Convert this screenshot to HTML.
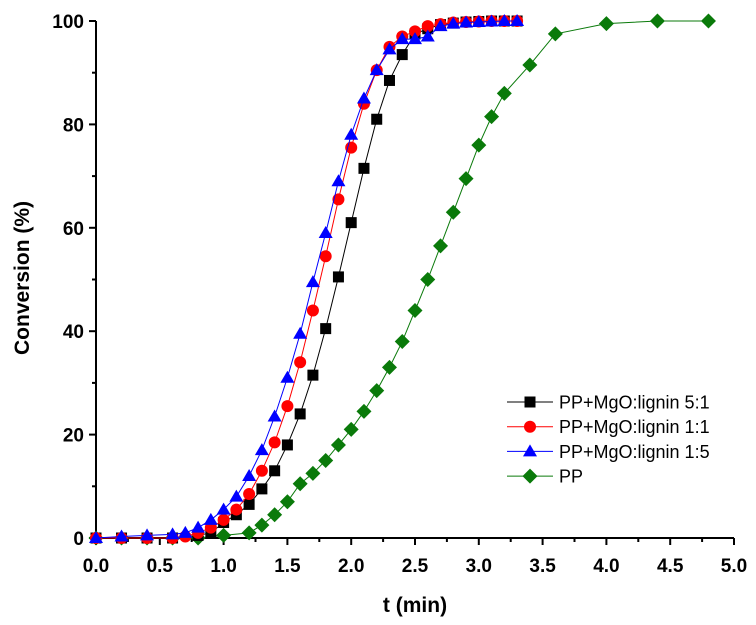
<!DOCTYPE html>
<html><head><meta charset="utf-8"><style>
body{margin:0;background:#fff;width:756px;height:625px;overflow:hidden}
svg{display:block}
text{font-family:"Liberation Sans",Arial,sans-serif}
</style></head><body>
<svg id="chart" width="756" height="625" viewBox="0 0 756 625" xmlns="http://www.w3.org/2000/svg">
<g id="axes"></g>
<g id="series"></g>
<g id="legend"></g>
<text x="415" y="612" text-anchor="middle" font-size="21" font-weight="bold">t (min)</text>
<text transform="translate(29,278) rotate(-90)" text-anchor="middle" font-size="21" font-weight="bold">Conversion (%)</text>
</svg>
<script>
const xTicks=[0,0.5,1,1.5,2,2.5,3,3.5,4,4.5,5];
const xTickLabels=["0.0","0.5","1.0","1.5","2.0","2.5","3.0","3.5","4.0","4.5","5.0"];
const yTicks=[0,20,40,60,80,100];
const yTickLabels=["0","20","40","60","80","100"];
const seriesNames=["PP+MgO:lignin 5:1","PP+MgO:lignin 1:1","PP+MgO:lignin 1:5","PP"];
const t51=[0,0.2,0.4,0.6,0.8,0.9,1.0,1.1,1.2,1.3,1.4,1.5,1.6,1.7,1.8,1.9,2.0,2.1,2.2,2.3,2.4,2.5,2.6,2.7,2.8,2.9,3.0,3.1,3.2,3.3];
const c51=[0,0,0,0,0.5,1,3,4.5,6.5,9.5,13,18,24,31.5,40.5,50.5,61,71.5,81,88.5,93.5,97.5,98.5,99.3,99.6,99.8,99.9,100,100,100];
const t11=[0,0.2,0.4,0.6,0.7,0.8,0.9,1.0,1.1,1.2,1.3,1.4,1.5,1.6,1.7,1.8,1.9,2.0,2.1,2.2,2.3,2.4,2.5,2.6,2.7,2.8,2.9,3.0,3.1,3.2,3.3];
const c11=[0,0,0,0,0.3,1,2,3.5,5.5,8.5,13,18.5,25.5,34,44,54.5,65.5,75.5,84,90.5,95,97,98,99,99.4,99.7,99.8,99.9,100,100,100];
const t15=[0,0.2,0.4,0.6,0.7,0.8,0.9,1.0,1.1,1.2,1.3,1.4,1.5,1.6,1.7,1.8,1.9,2.0,2.1,2.2,2.3,2.4,2.5,2.6,2.7,2.8,2.9,3.0,3.1,3.2,3.3];
const c15=[0,0.3,0.5,0.7,1,2,3.5,5.5,8,12,17,23.5,31,39.5,49.5,59,69,78,85,90.5,94.5,96.5,96.5,97,99,99.5,99.7,99.8,99.9,100,100];
const tPP=[0,0.2,0.4,0.6,0.8,1.0,1.2,1.3,1.4,1.5,1.6,1.7,1.8,1.9,2.0,2.1,2.2,2.3,2.4,2.5,2.6,2.7,2.8,2.9,3.0,3.1,3.2,3.4,3.6,4.0,4.4,4.8];
const cPP=[0,0,0,0,0,0.5,1,2.5,4.5,7,10.5,12.5,15,18,21,24.5,28.5,33,38,44,50,56.5,63,69.5,76,81.5,86,91.5,97.5,99.5,100,100];

const X0=96,X1=734,Y0=538,Y1=21;
function xs(v){return X0+(v-0)/(5-0)*(X1-X0);}
function ys(v){return Y0-(v-0)/(100-0)*(Y0-Y1);}
const NS="http://www.w3.org/2000/svg";
function mk(tag,attrs,parent){const e=document.createElementNS(NS,tag);for(const k in attrs)e.setAttribute(k,attrs[k]);parent.appendChild(e);return e;}
const axes=document.getElementById('axes');
let e=mk('line',{x1:X0,y1:Y0,x2:X1,y2:Y0,stroke:'#000','stroke-width':2},axes);


e=mk('line',{x1:X0,y1:Y0,x2:X0,y2:Y1,stroke:'#000','stroke-width':2},axes);


for(let i=0;i<=20;i++){const v=i*0.25;const x=xs(v);const major=i%2===0;
 e=mk('line',{x1:x,y1:Y0,x2:x,y2:Y0+(major?7:4),stroke:'#000','stroke-width':2},axes);
 
 }
xTicks.forEach((v,i)=>{e=mk('text',{x:xs(v),y:Y0+34,'text-anchor':'middle','font-size':19,'font-weight':'bold'},axes);e.textContent=xTickLabels[i];
 
 });
for(let i=0;i<=10;i++){const y=ys(i*10);const major=i%2===0;
 e=mk('line',{x1:X0,y1:y,x2:X0-(major?7:4),y2:y,stroke:'#000','stroke-width':2},axes);
 
 }
yTicks.forEach((v,i)=>{e=mk('text',{x:X0-12,y:ys(v)+7,'text-anchor':'end','font-size':19,'font-weight':'bold'},axes);e.textContent=yTickLabels[i];
 
 });

function marker(type,x,y,color,g){
 if(type==='square')return mk('rect',{x:x-5.5,y:y-5.5,width:11,height:11,fill:color},g);
 if(type==='circle')return mk('circle',{cx:x,cy:y,r:6,fill:color},g);
 if(type==='tri')return mk('polygon',{points:`${x},${y-7} ${x+7},${y+5} ${x-7},${y+5}`,fill:color},g);
 return mk('polygon',{points:`${x},${y-7.5} ${x+7.5},${y} ${x},${y+7.5} ${x-7.5},${y}`,fill:color},g);
}
const sdefs=[[tPP,cPP,'#0a7a0a','diamond','series-pp'],[t51,c51,'#000','square','series-5-1'],[t11,c11,'#f00','circle','series-1-1'],[t15,c15,'#00f','tri','series-1-5']];
const sg=document.getElementById('series');
sdefs.forEach(([t,c,col,type,name])=>{
 const g=mk('g',{},sg);
 
 
 const p=mk('polyline',{points:t.map((v,i)=>xs(v)+','+ys(c[i])).join(' '),fill:'none',stroke:col,'stroke-width':1},g);
 
 
 t.forEach((v,i)=>{const m=marker(type,xs(v),ys(c[i]),col,g);
  
  });
});
const lg=document.getElementById('legend');
const lcols=['#000','#f00','#00f','#0a7a0a'],ltypes=['square','circle','tri','diamond'];
seriesNames.forEach((n,i)=>{const y=402+i*24.7;
 const g=mk('g',{},lg);
 
 
 mk('line',{x1:507,y1:y,x2:553,y2:y,stroke:lcols[i],'stroke-width':1},g);
 marker(ltypes[i],530,y,lcols[i],g);
 const tx=mk('text',{x:559,y:y+6.5,'font-size':18},g);tx.textContent=n;
});
</script>
</body></html>
